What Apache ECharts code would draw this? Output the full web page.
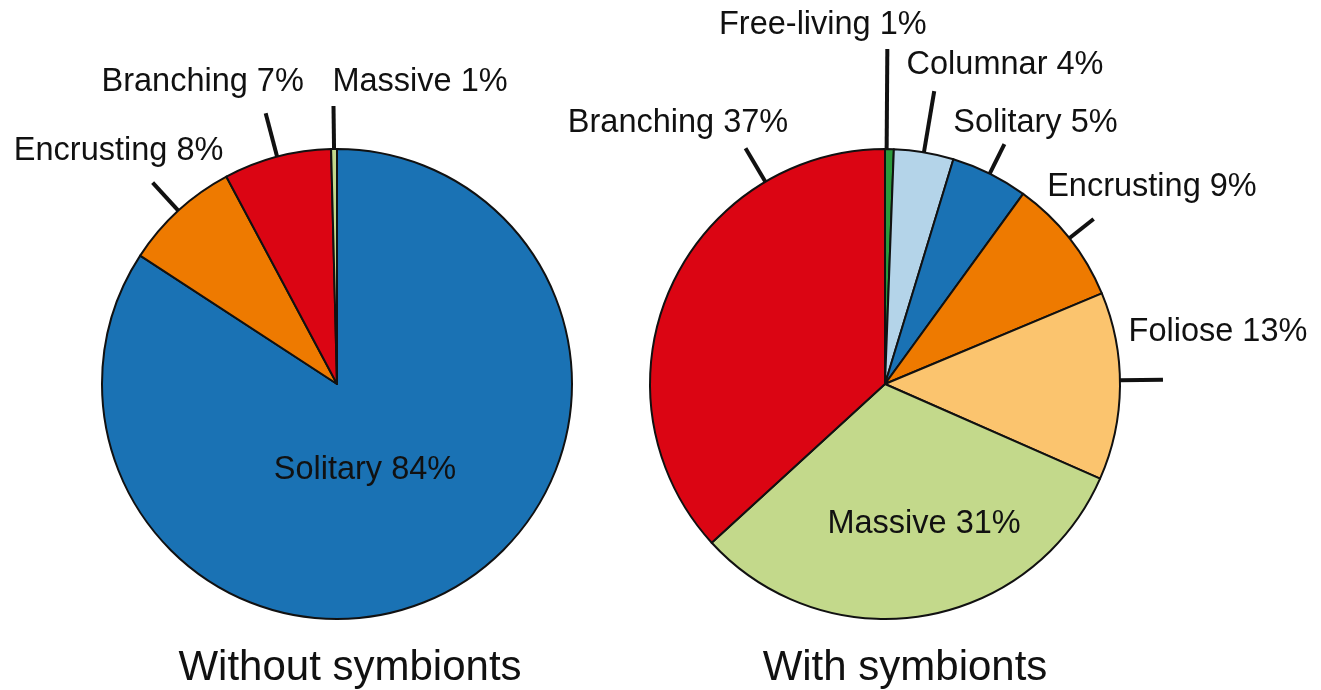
<!DOCTYPE html>
<html>
<head>
<meta charset="utf-8">
<script src="https://cdn.jsdelivr.net/npm/echarts@6/dist/echarts.min.js"></script>
<style>
    html, body { margin: 0; padding: 0; background: #fff; }
    #main { width: 1321px; height: 690px; }
</style>
</head>
<body>
<div id="main"></div>
<script>
// values (clockwise from 12 o'clock)
const withoutNames = ['Solitary', 'Encrusting', 'Branching', 'Massive'];
const withoutValues = [84.2, 8.0, 7.4, 0.4];
const withoutPct = [84, 8, 7, 1];

const withNames = ['Free-living', 'Columnar', 'Solitary', 'Encrusting', 'Foliose', 'Massive', 'Branching'];
const withValues = [0.6, 4.1, 5.3, 8.7, 12.9, 31.6, 36.8];
const withPct = [1, 4, 5, 9, 13, 31, 37];

const titles = ['Without symbionts', 'With symbionts'];

const withoutColors = ['#1a72b4', '#ee7a00', '#db0513', '#c3d98b'];
const withColors = ['#2b9a3b', '#b4d4e9', '#1a72b4', '#ee7a00', '#fbc46e', '#c3d98b', '#db0513'];

const font = '"Liberation Sans", Arial, Helvetica, sans-serif';
const ink = '#111';

/* label stubs: length, optional angle, text shift from stub end */
const withoutGuides = [
    { inside: true, shift: [-28, -17] },
    { len: 38, shift: [-34, -32] },
    { len: 45, shift: [-63, -31] },
    { len: 43, shift: [86.5, -23.5] }
];
const withGuides = [
    { len: 100, angle: 0.4, shift: [-64.5, -24] },
    { len: 62, shift: [70.8, -25.6] },
    { len: 33, shift: [31, -21] },
    { len: 31, shift: [58.3, -32] },
    { len: 43, angle: 89.1, shift: [55, -47.6] },
    { inside: true, shift: [20, 24] },
    { len: 39, angle: 329.4, shift: [-67.5, -25] }
];

function placeLabels (values, center, radius, guides) {
    const total = values.reduce((a, b) => a + b, 0);
    let acc = 0;
    const mids = values.map(v => { const m = (acc + v / 2) / total * 360; acc += v; return m; });
    const at = (deg, dist) => {
        const t = deg * Math.PI / 180;
        return [center[0] + dist * Math.sin(t), center[1] - dist * Math.cos(t)];
    };
    return function (params) {
        const g = guides[params.dataIndex];
        const ang = g.angle != null ? g.angle : mids[params.dataIndex];
        if (g.inside) {
            const p = at(ang, radius / 2);
            return { x: p[0] + g.shift[0], y: p[1] + g.shift[1], align: 'center', verticalAlign: 'middle' };
        }
        const p0 = at(ang, radius);
        const p1 = at(ang, radius + g.len);
        return {
            x: p1[0] + g.shift[0], y: p1[1] + g.shift[1],
            align: 'center', verticalAlign: 'middle',
            labelLinePoints: [p0, p1]
        };
    };
}

function pieSeries (names, values, pct, colors, guides, center, radius) {
    return {
        type: 'pie',
        center: center,
        radius: radius,
        startAngle: 90,
        clockwise: true,
        avoidLabelOverlap: false,
        silent: true,
        itemStyle: { borderColor: ink, borderWidth: 2 },
        label: {
            show: true,
            color: ink,
            fontSize: 32.5,
            fontFamily: font,
            formatter: p => `${names[p.dataIndex]} ${pct[p.dataIndex]}%`
        },
        labelLine: { show: true, length: 20, length2: 0, lineStyle: { color: ink, width: 4 } },
        labelLayout: placeLabels(values, center, radius, guides),
        data: values.map((v, i) => ({
            name: names[i],
            value: v,
            itemStyle: { color: colors[i] },
            labelLine: { show: !guides[i].inside }
        }))
    };
}

const chart = echarts.init(document.getElementById('main'));
chart.setOption({
    animation: false,
    backgroundColor: '#fff',
    title: [
        { text: titles[0], left: 350, top: 647, textAlign: 'center', padding: 0,
          textStyle: { fontSize: 42, fontWeight: 'normal', color: ink, fontFamily: font } },
        { text: titles[1], left: 905, top: 647, textAlign: 'center', padding: 0,
          textStyle: { fontSize: 42, fontWeight: 'normal', color: ink, fontFamily: font } }
    ],
    series: [
        pieSeries(withoutNames, withoutValues, withoutPct, withoutColors, withoutGuides, [337, 384], 235),
        pieSeries(withNames, withValues, withPct, withColors, withGuides, [885, 384], 235)
    ]
});
</script>
</body>
</html>
